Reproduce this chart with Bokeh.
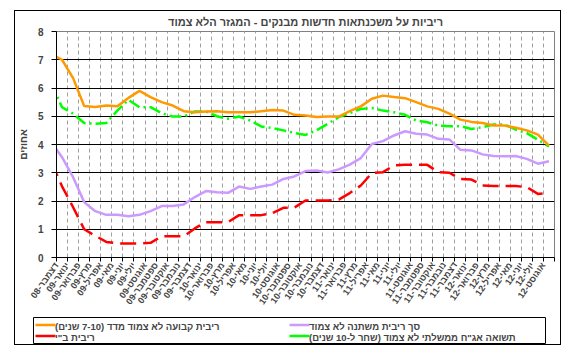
import math
from bokeh.plotting import figure
from bokeh.layouts import column
from bokeh.models import Range1d, FixedTicker, Legend, LegendItem
from bokeh.embed import file_html
from bokeh.resources import INLINE

title_text = "ריביות על משכנתאות חדשות מבנקים - המגזר הלא צמוד"
y_label = "אחוזים"

# month tick labels (axis runs Dec-08 .. Aug-12)
tick_labels = [
    "דצמבר-08",
    "ינואר-09", "פברואר-09", "מרץ-09", "אפריל-09", "מאי-09", "יוני-09",
    "יולי-09", "אוגוסט-09", "ספטמבר-09", "אוקטובר-09", "נובמבר-09", "דצמבר-09",
    "ינואר-10", "פברואר-10", "מרץ-10", "אפריל-10", "מאי-10", "יוני-10",
    "יולי-10", "אוגוסט-10", "ספטמבר-10", "אוקטובר-10", "נובמבר-10", "דצמבר-10",
    "ינואר-11", "פברואר-11", "מרץ-11", "אפריל-11", "מאי-11", "יוני-11",
    "יולי-11", "אוגוסט-11", "ספטמבר-11", "אוקטובר-11", "נובמבר-11", "דצמבר-11",
    "ינואר-12", "פברואר-12", "מרץ-12", "אפריל-12", "מאי-12", "יוני-12",
    "יולי-12", "אוגוסט-12",
]

# monthly observations, Nov-08 .. Aug-12 (plotted mid-month)
fixed_rate = [7.2, 7.0, 6.35, 5.36, 5.33, 5.38, 5.35, 5.65, 5.9, 5.68, 5.5, 5.38,
              5.18, 5.14, 5.17, 5.18, 5.14, 5.14, 5.14, 5.18, 5.22, 5.2, 5.05,
              5.03, 4.97, 4.99, 4.99, 5.18, 5.35, 5.62, 5.73, 5.68, 5.64, 5.5,
              5.35, 5.26, 5.09, 4.88, 4.80, 4.76, 4.67, 4.67, 4.59, 4.50, 4.35, 3.96]
variable_rate = [4.1, 3.55, 2.84, 1.96, 1.64, 1.51, 1.51, 1.46, 1.51, 1.64, 1.82, 1.82,
                 1.88, 2.14, 2.35, 2.31, 2.29, 2.51, 2.43, 2.51, 2.58, 2.78, 2.87,
                 3.06, 3.08, 3.01, 3.12, 3.29, 3.52, 4.02, 4.12, 4.32, 4.47, 4.38,
                 4.35, 4.2, 4.18, 3.81, 3.79, 3.65, 3.59, 3.58, 3.59, 3.49, 3.32, 3.41]
boi_rate = [3.4, 2.52, 1.78, 1.0, 0.77, 0.55, 0.5, 0.5, 0.5, 0.52, 0.75, 0.75,
            0.75, 1.03, 1.25, 1.25, 1.25, 1.5, 1.5, 1.5, 1.57, 1.76, 1.77,
            2.02, 2.02, 2.02, 2.05, 2.28, 2.55, 2.99, 3.02, 3.26, 3.28, 3.28,
            3.28, 3.02, 3.0, 2.78, 2.76, 2.55, 2.53, 2.53, 2.53, 2.49, 2.25, 2.28]
gov_yield = [6.2, 5.32, 5.09, 4.76, 4.73, 4.76, 5.2, 5.58, 5.32, 5.32, 5.11, 4.99,
             4.99, 5.17, 5.17, 5.0, 4.91, 4.99, 4.85, 4.64, 4.58, 4.5, 4.41,
             4.34, 4.5, 4.73, 4.97, 5.11, 5.26, 5.29, 5.2, 5.14, 5.05, 4.85,
             4.79, 4.67, 4.65, 4.65, 4.55, 4.61, 4.71, 4.71, 4.53, 4.4, 4.17, 3.93]

y_ticks = [0, 1, 2, 3, 4, 5, 6, 7, 8]

legend_labels = [
    "ריבית קבועה לא צמוד מדד (7-10 שנים)\u200f",
    "ריבית ב\"י",
    "סך ריבית משתנה לא צמוד",
    "תשואה אג\"ח ממשלתי לא צמוד (שחר ל-10 שנים)\u200f",
]

FONT = "Liberation Sans"
COLORS = ["#FF9900", "#FF0000", "#CC99FF", "#00FF00"]
DASHES = ["solid", "16 7", "solid", "12 4 2 4"]
WIDTH = 2.5

x_pos = [i - 0.5 for i in range(len(fixed_rate))]

p = figure(width=562, height=316, x_range=Range1d(0, len(tick_labels)),
           y_range=Range1d(0, 8), output_backend="svg", toolbar_location=None,
           min_border_left=56, min_border_right=8, min_border_top=31,
           min_border_bottom=59)
p.background_fill_color = "white"
p.border_fill_alpha = 0
p.outline_line_color = "#808080"
p.outline_line_width = 1

p.title.text = title_text
p.title.align = "center"
p.title.text_font = FONT
p.title.text_font_size = "11px"
p.title.text_font_style = "bold"
p.title.standoff = 7

# x axis
xa = p.xaxis[0]
xa.ticker = FixedTicker(ticks=list(range(len(tick_labels) + 1)))
overrides = {i: lab for i, lab in enumerate(tick_labels)}
overrides[len(tick_labels)] = ""
xa.major_label_overrides = overrides
xa.major_label_orientation = math.radians(55)
xa.major_label_text_font = FONT
xa.major_label_text_font_size = "9px"
xa.major_label_text_font_style = "bold"
xa.major_label_standoff = 2
xa.major_tick_in = 0
xa.major_tick_out = 4
xa.minor_tick_line_color = None
xa.axis_line_color = "black"
xa.major_tick_line_color = "black"

# y axis
ya = p.yaxis[0]
ya.ticker = FixedTicker(ticks=y_ticks)
ya.major_label_text_font = FONT
ya.major_label_text_font_size = "10px"
ya.major_label_text_font_style = "bold"
ya.major_label_standoff = 8
ya.major_tick_in = 0
ya.major_tick_out = 5
ya.minor_tick_line_color = None
ya.axis_line_color = "black"
ya.axis_label = y_label
ya.axis_label_text_font = FONT
ya.axis_label_text_font_size = "10px"
ya.axis_label_text_font_style = "bold"
ya.axis_label_standoff = 6

p.xgrid.grid_line_color = "#a0a0a0"
p.xgrid.grid_line_dash = "4 3"
p.ygrid.grid_line_color = "black"
p.ygrid.grid_line_width = 1

series = [fixed_rate, boi_rate, variable_rate, gov_yield]
draw_order = [3, 1, 2, 0]
for k in draw_order:
    p.line(x_pos, series[k], line_color=COLORS[k], line_width=WIDTH,
           line_dash=DASHES[k])

# ---- legend strip below the chart (own small canvas so it is not clipped)
PL_W, PL_H = 562, 30
pl = figure(width=PL_W, height=PL_H, x_axis_type=None, y_axis_type=None,
            output_backend="svg", toolbar_location=None, min_border=0)
pl.background_fill_alpha = 0
pl.border_fill_alpha = 0
pl.outline_line_color = None
pl.grid.visible = False

frame_offset = 56  # legend strip frame is aligned with the chart frame
if "frame_align" in pl.properties():
    pl.frame_align = False
    p.frame_align = False
    frame_offset = 0
# pixel-like coordinates for the legend strip
if frame_offset == 0:
    pl.x_range = Range1d(0, PL_W)
else:
    pl.x_range = Range1d(56, 554)
pl.y_range = Range1d(0, PL_H)

# legend geometry (pixels, page x / strip y from bottom)
LEG_LEFT, LEG_BOTTOM, PAD, ROW_H = 33, 3, 2, 11
GLYPH_W, STANDOFF, LABEL_W = 20, 2, 232
COL_W = GLYPH_W + STANDOFF + LABEL_W
leg_top = LEG_BOTTOM + 2 * ROW_H + 2 * PAD
leg_right = LEG_LEFT + 2 * COL_W + 2 * PAD

# legend box
pl.quad(left=[LEG_LEFT], right=[leg_right], bottom=[LEG_BOTTOM], top=[leg_top],
        fill_color="white", line_color="black", line_width=1)
# legend samples: column-major (orange, red | lavender, green)
for k in range(4):
    col, row = k // 2, k % 2
    gx0 = LEG_LEFT + PAD + col * COL_W
    gy = leg_top - PAD - ROW_H * row - ROW_H / 2
    pl.line([gx0, gx0 + GLYPH_W], [gy, gy], line_color=COLORS[k],
            line_width=WIDTH)

leg_renderers = [pl.line([], [], line_color=COLORS[k], line_width=WIDTH,
                         line_dash=DASHES[k]) for k in range(4)]

legend = Legend(items=[LegendItem(label=legend_labels[k], renderers=[leg_renderers[k]])
                       for k in range(4)],
                orientation="vertical", ncols=2,
                location=(LEG_LEFT - frame_offset, LEG_BOTTOM))
legend.label_text_font = FONT
legend.label_text_font_size = "9.5px"
legend.label_text_font_style = "bold"
legend.label_height = 9
legend.label_width = LABEL_W if frame_offset == 0 else 220
legend.glyph_height = 9
legend.glyph_width = GLYPH_W
legend.label_standoff = STANDOFF
legend.padding = PAD
legend.spacing = 0
legend.margin = 0
legend.border_line_color = None
legend.background_fill_alpha = 0
pl.add_layout(legend)

layout = column(p, pl, spacing=0, styles={"background": (
    "linear-gradient(#000,#000) 14px 10px / 547px 1px no-repeat, "
    "linear-gradient(#000,#000) 14px 344px / 547px 1px no-repeat, "
    "linear-gradient(#000,#000) 14px 10px / 1px 335px no-repeat, "
    "linear-gradient(#000,#000) 560px 10px / 1px 335px no-repeat")})

open("out.html", "w").write(file_html(layout, INLINE))
